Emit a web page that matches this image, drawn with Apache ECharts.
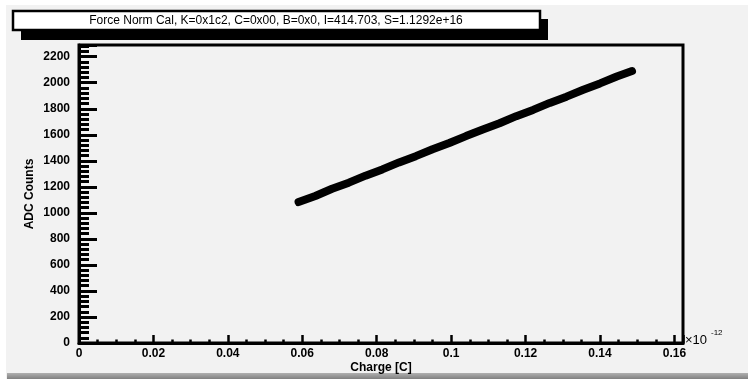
<!DOCTYPE html>
<html>
<head>
<meta charset="utf-8">
<script src="https://cdn.jsdelivr.net/npm/echarts@6/dist/echarts.min.js"></script>
<style>
html,body{margin:0;padding:0;background:#f2f2f2;}
#c{width:748px;height:379px;}
</style>
</head>
<body>
<div id="c"></div>
<script>
// Data (charge in units of 1e-12 C, ADC counts)
const chargeValues = [0.059, 0.0635, 0.068, 0.0725, 0.077, 0.0815, 0.086, 0.0905, 0.095, 0.0995, 0.104, 0.1085, 0.113, 0.1175, 0.122, 0.1265, 0.131, 0.1355, 0.14, 0.1445, 0.1486];
const adcValues = [1083, 1130, 1185, 1232, 1286, 1334, 1388, 1436, 1489, 1537, 1590, 1641, 1689, 1743, 1791, 1845, 1893, 1946, 1995, 2048, 2090];
const titleText = 'Force Norm Cal, K=0x1c2, C=0x00, B=0x0, I=414.703, S=1.1292e+16';
const xAxisTitle = 'Charge [C]';
const yAxisTitle = 'ADC Counts';
const xTickLabels = ['0', '0.02', '0.04', '0.06', '0.08', '0.1', '0.12', '0.14', '0.16'];

const FONT = '"Liberation Sans", Arial, sans-serif';
const chart = echarts.init(document.getElementById('c'), null, {renderer: 'canvas'});
const points = chargeValues.map((x, i) => [x, adcValues[i]]);

chart.setOption({
  backgroundColor: '#f2f2f2',
  animation: false,
  grid: {
    left: 79, right: 65, top: 45, bottom: 36, containLabel: false, outerBoundsMode: 'none',
    show: true, borderColor: '#000', borderWidth: 3, backgroundColor: '#f2f2f2'
  },
  xAxis: {
    type: 'value', min: 0, max: 0.1623, interval: 0.02,
    splitLine: {show: false},
    axisLine: {show: true, lineStyle: {color: '#000', width: 3}},
    axisTick: {show: true, inside: true, length: 8, lineStyle: {color: '#000', width: 2.5}},
    minorTick: {show: true, splitNumber: 4, length: 3.5, lineStyle: {color: '#000', width: 2.5}},
    axisLabel: {
      showMaxLabel: false, margin: 5, color: '#000', fontFamily: FONT, fontSize: 12, fontWeight: 'bold',
      formatter: function (v) { const i = Math.round(v / 0.02); return xTickLabels[i] !== undefined ? xTickLabels[i] : ''; }
    },
    name: xAxisTitle, nameLocation: 'middle', nameGap: 19, nameMoveOverlap: false,
    nameTextStyle: {color: '#000', fontFamily: FONT, fontSize: 12, fontWeight: 'bold'}
  },
  yAxis: {
    type: 'value', min: 0, max: 2290, interval: 200,
    splitLine: {show: false},
    axisLine: {show: true, lineStyle: {color: '#000', width: 3}},
    axisTick: {show: true, inside: true, length: 18, lineStyle: {color: '#000', width: 3}},
    minorTick: {show: true, splitNumber: 5, length: 10, lineStyle: {color: '#000', width: 3}},
    axisLabel: {showMaxLabel: false, margin: 9, color: '#000', fontFamily: FONT, fontSize: 12, fontWeight: 'bold',
      formatter: function (v) { return String(Math.round(v)); }},
    name: yAxisTitle, nameLocation: 'middle', nameGap: 43, nameRotate: 90, nameMoveOverlap: false,
    nameTextStyle: {color: '#000', fontFamily: FONT, fontSize: 12, fontWeight: 'bold'}
  },
  series: [{
    type: 'line', data: points, showSymbol: false, symbol: 'none',
    lineStyle: {color: '#000', width: 8, cap: 'round'}, z: 5
  }],
  graphic: [
    {type: 'rect', shape: {x: 0, y: 0, width: 748, height: 5}, style: {fill: '#ffffff'}, silent: true},
    {type: 'rect', shape: {x: 0, y: 0, width: 6, height: 379}, style: {fill: '#ffffff'}, silent: true},
    {type: 'rect', shape: {x: 7, y: 373, width: 741, height: 6},
      style: {fill: new echarts.graphic.LinearGradient(0, 0, 0, 1, [{offset: 0, color: '#b0b0b0'}, {offset: 1, color: '#808080'}])}, silent: true},
    {type: 'rect', shape: {x: 21, y: 19, width: 527, height: 21}, style: {fill: '#000'}, silent: true, z: 10},
    {type: 'rect', shape: {x: 13, y: 11, width: 527, height: 19}, style: {fill: '#ffffff', stroke: '#000', lineWidth: 2.5}, silent: true, z: 11},
    {type: 'text', x: 276, y: 20.5, style: {text: titleText, fill: '#000', font: '12px ' + FONT, align: 'center', verticalAlign: 'middle'}, silent: true, z: 12},
    {type: 'text', x: 685, y: 340, style: {text: '\u00d710', fill: '#000', font: '13px ' + FONT, align: 'left', verticalAlign: 'middle'}, silent: true, z: 12},
    {type: 'text', x: 711, y: 333, style: {text: '-12', fill: '#000', font: '8px ' + FONT, align: 'left', verticalAlign: 'middle'}, silent: true, z: 12}
  ]
});
</script>
</body>
</html>
